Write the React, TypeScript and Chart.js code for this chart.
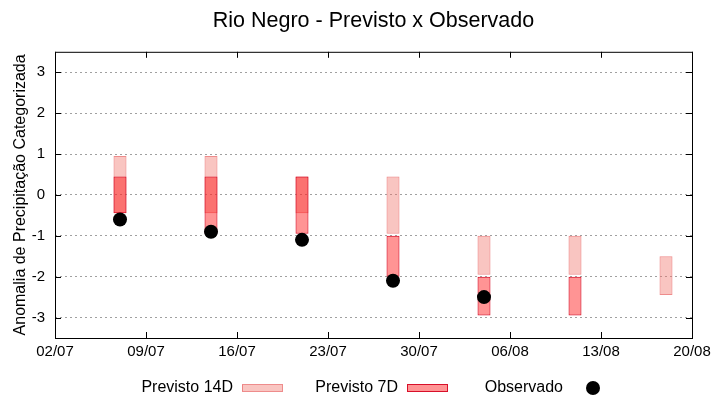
import React, { useEffect, useRef } from "react";
import { Chart, registerables } from "chart.js";

Chart.register(...registerables);

// days counted from 02/07
const forecastDays = [5, 12, 19, 26, 33, 40, 47];
const prev14Low = [-0.45, -0.45, -0.45, -0.95, -1.95, -1.95, -2.45];
const prev14High = [0.95, 0.95, 0.45, 0.45, -1.0, -1.0, -1.5];
const prev7Low = [-0.45, -0.95, -0.95, -2.0, -2.95, -2.95, null];
const prev7High = [0.45, 0.45, 0.45, -1.0, -2.0, -2.0, null];
const observedDays = [5, 12, 19, 26, 33];
const observed = [-0.6, -0.9, -1.1, -2.1, -2.5];

const xTickLabels = ["02/07", "09/07", "16/07", "23/07", "30/07", "06/08", "13/08", "20/08"];
const yTicks = [-3, -2, -1, 0, 1, 2, 3];

const FONT = "'Liberation Sans', Arial, sans-serif";
const c14Fill = "rgba(240,110,100,0.4)";
const c14Line = "rgba(235,120,120,0.85)";
const c7Fill = "rgba(255,0,0,0.42)";
const c7Line = "#d8102a";

const framePlugin = {
  id: "frame",
  afterDraw(chart: any) {
    const { ctx, chartArea: a, scales } = chart;
    const tick = 6;
    ctx.save();
    ctx.strokeStyle = "#000";
    ctx.lineWidth = 1;
    ctx.strokeRect(a.left + 0.5, a.top + 0.5, a.right - a.left, a.bottom - a.top);
    ctx.beginPath();
    scales.x.ticks.forEach((t: any) => {
      const px = Math.round(scales.x.getPixelForValue(t.value)) + 0.5;
      ctx.moveTo(px, a.bottom);
      ctx.lineTo(px, a.bottom - tick);
      ctx.moveTo(px, a.top);
      ctx.lineTo(px, a.top + tick);
    });
    scales.y.ticks.forEach((t: any) => {
      const py = Math.round(scales.y.getPixelForValue(t.value)) + 0.5;
      ctx.moveTo(a.left, py);
      ctx.lineTo(a.left + tick, py);
      ctx.moveTo(a.right, py);
      ctx.lineTo(a.right - tick, py);
    });
    ctx.stroke();

    // legend (gnuplot style: text then sample)
    const cy = a.bottom + 50;
    const cx = chart.width / 2;
    ctx.font = `16px ${FONT}`;
    ctx.textAlign = "right";
    ctx.textBaseline = "middle";
    const entries = [
      { text: "Previsto 14D", fill: c14Fill, line: c14Line },
      { text: "Previsto 7D", fill: c7Fill, line: c7Line },
      { text: "Observado", fill: null, line: null },
    ];
    entries.forEach((e, i) => {
      const end = cx - 127 + i * 165;
      ctx.fillStyle = "#000";
      ctx.fillText(e.text, end, cy);
      if (e.fill) {
        ctx.fillStyle = e.fill;
        ctx.fillRect(end + 9, cy - 3, 40, 6);
        ctx.strokeStyle = e.line;
        ctx.strokeRect(end + 9.5, cy - 3.5, 40, 7);
      } else {
        ctx.beginPath();
        ctx.arc(end + 30, cy, 7, 0, Math.PI * 2);
        ctx.fillStyle = "#000";
        ctx.fill();
      }
    });
    ctx.restore();
  },
};

export default function App() {
  const chartRef = useRef<HTMLCanvasElement>(null);

  useEffect(() => {
    Chart.defaults.font.family = FONT;
    Chart.defaults.color = "#000";

    const bars14 = forecastDays.map((d, i) => ({ x: d, y: [prev14Low[i], prev14High[i]] }));
    const bars7 = forecastDays
      .map((d, i) => ({ x: d, y: [prev7Low[i], prev7High[i]] }))
      .filter((p) => p.y[0] !== null);
    const obs = observedDays.map((d, i) => ({ x: d, y: observed[i] }));

    const chart = new Chart(chartRef.current!, {
      type: "bar",
      data: {
        datasets: [
          {
            label: "Previsto 14D",
            data: bars14 as any,
            backgroundColor: c14Fill,
            borderColor: c14Line,
            borderWidth: 1,
            borderSkipped: false,
            grouped: false,
            categoryPercentage: 1,
            barPercentage: 1 / 7,
            order: 3,
          },
          {
            label: "Previsto 7D",
            data: bars7 as any,
            backgroundColor: c7Fill,
            borderColor: c7Line,
            borderWidth: 1,
            borderSkipped: false,
            grouped: false,
            categoryPercentage: 1,
            barPercentage: 1 / 7,
            order: 2,
          },
          {
            type: "scatter",
            label: "Observado",
            data: obs as any,
            backgroundColor: "#000",
            borderColor: "#000",
            pointRadius: 7,
            borderWidth: 0,
            order: 1,
          } as any,
        ],
      },
      options: {
        animation: false,
        responsive: true,
        maintainAspectRatio: false,
        layout: { padding: { left: 0, right: 28, top: 0, bottom: 0 } },
        plugins: {
          legend: { display: false },
          tooltip: { enabled: false },
          title: {
            display: true,
            fullSize: false,
            text: "Rio Negro - Previsto x Observado",
            font: { size: 21.5, weight: "normal" },
            color: "#000",
            padding: { top: 8, bottom: 18 },
          },
        },
        scales: {
          x: {
            type: "linear",
            min: 0,
            max: 49,
            offset: false,
            grid: { display: false, drawTicks: false, offset: false },
            border: { display: false },
            ticks: {
              stepSize: 7,
              padding: 5,
              font: { size: 15 },
              maxRotation: 0,
              callback: (v: any) => xTickLabels[Math.round(Number(v) / 7)],
            },
            afterFit: (s: any) => {
              s.height = 62;
            },
          },
          y: {
            min: -3.5,
            max: 3.5,
            grid: { color: "#a0a0a0", drawTicks: false },
            border: { display: false, dash: [2, 3] },
            ticks: { padding: 10, font: { size: 15 } },
            afterBuildTicks: (s: any) => {
              s.ticks = yTicks.map((v) => ({ value: v }));
            },
            afterFit: (s: any) => {
              s.width = 55;
            },
            title: {
              display: true,
              text: "Anomalia de Precipitação Categorizada",
              font: { size: 16 },
              padding: { top: 11, bottom: 0 },
            },
          },
        },
      },
      plugins: [framePlugin],
    });

    return () => {
      chart.destroy();
    };
  }, []);

  return (
    <div style={{ position: "fixed", left: 0, top: 0, width: 720, height: 400, background: "#fff" }}>
      <canvas ref={chartRef} />
    </div>
  );
}
